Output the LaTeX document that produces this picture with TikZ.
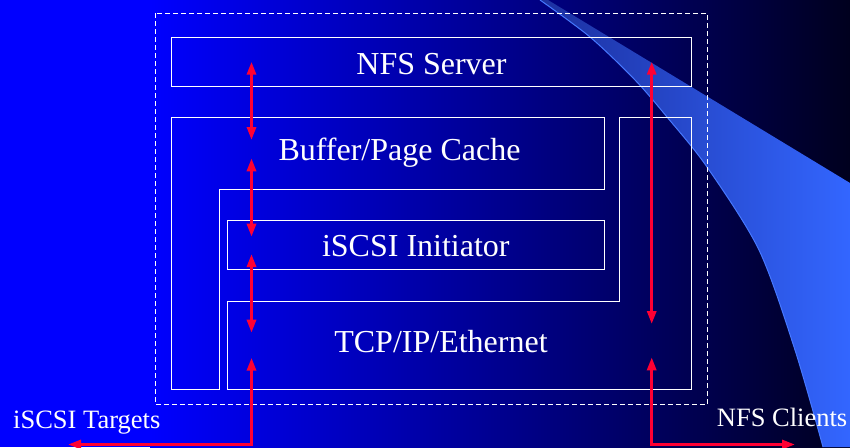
\documentclass[tikz,border=0pt]{standalone}
\usepackage{fontspec}
\setmainfont{Liberation Serif}
\usetikzlibrary{arrows.meta}
\definecolor{bgblue}{RGB}{0,0,255}
\definecolor{bgdark}{RGB}{0,0,30}
\definecolor{swL}{RGB}{28,48,160}
\definecolor{swR}{RGB}{51,102,255}
\definecolor{swEdge}{RGB}{70,120,255}
\definecolor{arrowred}{RGB}{255,0,51}
\begin{document}
\begin{tikzpicture}[x=1pt,y=-1pt,
  box/.style={draw=white,line width=1pt},
  frame/.style={draw=white,line width=0.9pt,dash pattern=on 5pt off 3pt},
  lbl/.style={text=white,font=\fontsize{32}{38}\selectfont,anchor=base,inner sep=0pt},
  side/.style={text=white,font=\fontsize{26.5}{31}\selectfont,anchor=base west,inner sep=0pt},
  link/.style={draw=arrowred,line width=3pt,{Triangle[length=13pt,width=9pt]}-{Triangle[length=13pt,width=9pt]}}]
\useasboundingbox (0,0) rectangle (850,447);
% background
\fill[bgblue] (0,0) rectangle (151,447);
\shade[left color=bgblue,right color=bgdark] (150,0) rectangle (850,447);
% swoosh
\shade[left color=swL,right color=swR] (548,0) -- (850,183) -- (850,447) -- (823,447)
  -- plot[smooth] coordinates {(823,447) (795,350) (759,250) (707,167) (667,117) (635,80) (590,37) (540,0)} -- cycle;
\draw[swEdge,line width=1pt] plot[smooth] coordinates {(823,447) (795,350) (759,250) (707,167) (667,117) (635,80) (590,37) (540,0)};
% frame and boxes
\draw[frame] (155.3,13.3) rectangle (707.3,404.7);
\draw[box] (171.3,37.3) rectangle (691.7,86);
\draw[box] (171.3,117.3) -- (604,117.3) -- (604,189.3) -- (219.3,189.3) -- (219.3,389.3) -- (171.3,389.3) -- cycle;
\draw[box] (227.3,220.3) rectangle (604,269.3);
\draw[box] (227.3,301.7) -- (619.3,301.7) -- (619.3,117.3) -- (691.7,117.3) -- (691.7,389.3) -- (227.3,389.3) -- cycle;
% labels
\node[lbl] (nfs) at (431.5,74) {NFS Server};
\node[lbl] (cache) at (399.5,160.5) {Buffer/Page Cache};
\node[lbl] (init) at (415.8,256.7) {iSCSI Initiator};
\node[lbl] (tcp) at (441,352.7) {TCP/IP/Ethernet};
\node[side] (targets) at (13,428.3) {iSCSI Targets};
\node[side] (clients) at (716.7,426.7) {NFS Clients};
% arrow end points
\coordinate (l1a) at (251.5,61.7);
\coordinate (l1b) at (251.5,140);
\coordinate (l2a) at (251.5,158.3);
\coordinate (l2b) at (251.5,236.7);
\coordinate (l3a) at (251.5,254);
\coordinate (l3b) at (251.5,332.7);
\coordinate (l4a) at (251.5,357.7);
\coordinate (l4c) at (251.5,444.5);
\coordinate (l4b) at (68,444.5);
\coordinate (r1a) at (651.7,61.7);
\coordinate (r1b) at (651.7,324);
\coordinate (r2a) at (651.7,357.3);
\coordinate (r2c) at (651.7,444.5);
\coordinate (r2b) at (795,444.5);
% arrows
\draw[link] (l1a) -- (l1b);
\draw[link] (l2a) -- (l2b);
\draw[link] (l3a) -- (l3b);
\draw[link] (l4a) -- (l4c) -- (l4b);
\draw[link] (r1a) -- (r1b);
\draw[link] (r2a) -- (r2c) -- (r2b);
\end{tikzpicture}
\end{document}
